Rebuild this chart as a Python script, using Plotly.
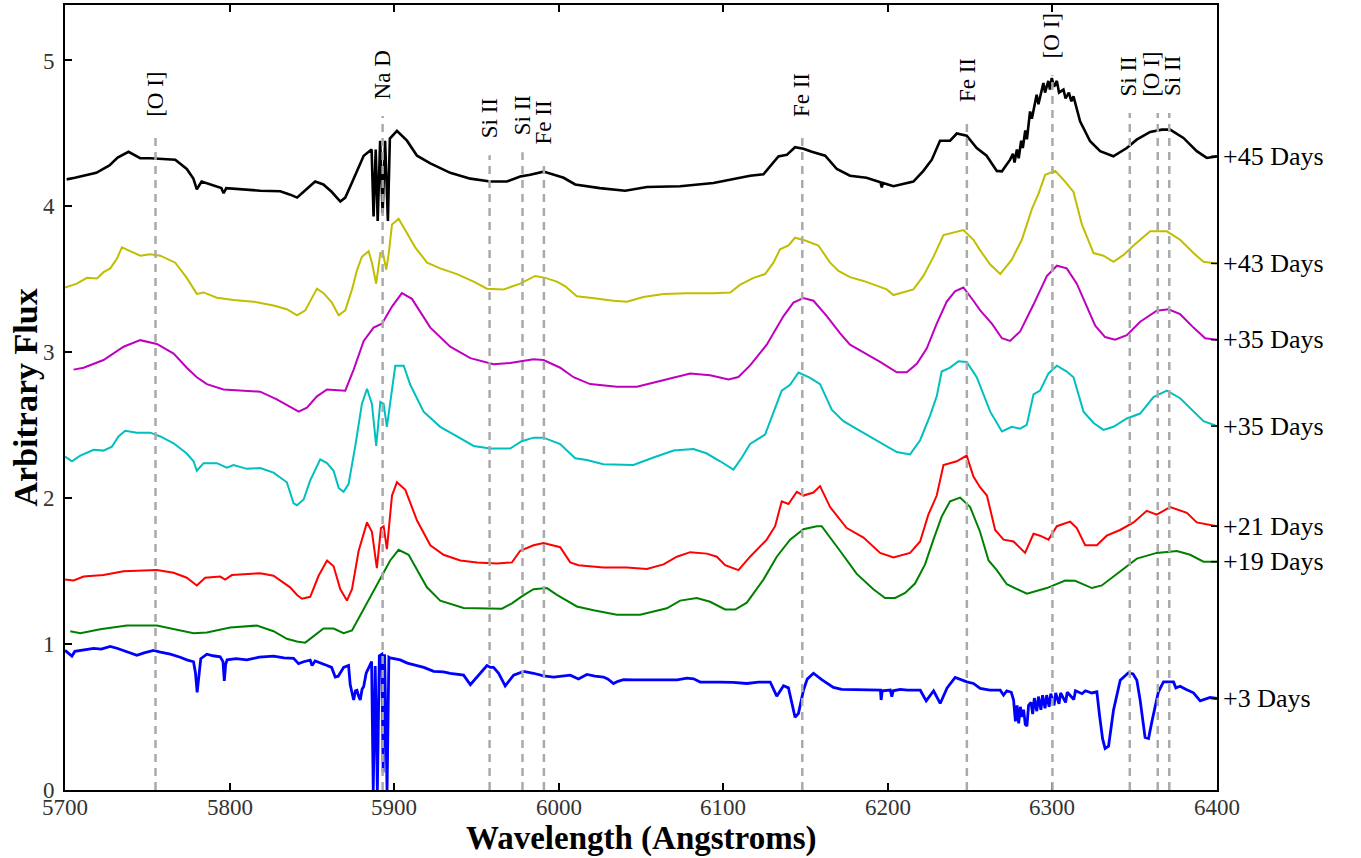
import plotly.graph_objects as go

# ---------------- data (wavelength in Angstroms, arbitrary flux) ----------------
spec_45 = [(5701,4.185),(5706,4.196),(5719,4.23),(5727,4.28),(5732,4.334),(5738.6,4.374),(5745.7,4.33),
 (5751.8,4.33),(5767,4.32),(5774,4.256),(5778,4.19),(5780.1,4.117),(5783,4.17),(5795,4.125),(5796.4,4.09),
 (5798,4.125),(5818.6,4.107),(5830.8,4.104),(5836.9,4.08),(5841,4.06),(5845,4.10),(5852,4.17),(5857,4.15),
 (5862,4.10),(5867.3,4.033),(5870.3,4.06),(5874.4,4.164),(5877.4,4.24),(5881.5,4.347),(5886.3,4.39),
 (5887.5,3.93),(5888.8,4.39),(5890,3.90),(5891.5,4.45),(5893,3.955),(5894.5,4.45),(5896.2,3.90),
 (5897.4,4.465),(5901.7,4.518),(5907.8,4.45),(5913.9,4.347),(5922,4.295),(5934.1,4.23),(5946.3,4.19),
 (5958.4,4.17),(5968.5,4.17),(5976.6,4.205),(5982.7,4.217),(5990.8,4.238),(6003,4.196),(6010,4.15),
 (6025,4.125),(6040.4,4.107),(6053.6,4.133),(6073.8,4.138),(6094,4.16),(6106,4.185),(6116.3,4.21),
 (6124.4,4.22),(6133.5,4.342),(6138.6,4.353),(6143.6,4.405),(6148.7,4.395),(6153.8,4.374),(6161.9,4.347),
 (6169,4.256),(6177,4.21),(6187,4.196),(6195.5,4.165),(6196.3,4.13),(6197,4.16),(6203.4,4.138),
 (6215.5,4.17),(6221.6,4.243),(6226.7,4.32),(6231.7,4.45),(6237.8,4.45),(6241.9,4.499),(6247.9,4.484),
 (6254,4.40),(6260,4.347),(6266.2,4.243),(6269.3,4.24),(6274.3,4.32),(6276,4.36),(6277,4.30),
 (6278.4,4.39),(6279.5,4.33),(6281,4.45),(6282,4.40),(6283.5,4.52),(6284.5,4.46),(6286.4,4.65),
 (6287.5,4.60),(6290.4,4.765),(6291.5,4.70),(6294.5,4.845),(6295.5,4.78),(6297.5,4.86),(6298.5,4.80),
 (6299.6,4.88),(6301,4.82),(6302.7,4.86),(6304,4.78),(6306.7,4.80),(6308,4.74),(6310,4.78),(6311.5,4.72),
 (6312.8,4.754),(6316.8,4.583),(6322.9,4.446),(6329,4.378),(6337,4.343),(6345.2,4.40),(6351.2,4.457),
 (6359.4,4.51),(6366.5,4.526),(6371.5,4.526),(6379.6,4.469),(6387.7,4.378),(6393.8,4.332),(6400,4.343)]

spec_43 = [(5700,3.444),(5707.2,3.47),(5713.3,3.51),(5719.4,3.505),(5723.4,3.549),(5727.5,3.575),
 (5731.5,3.64),(5734.6,3.719),(5739.6,3.693),(5745.7,3.662),(5751.8,3.672),(5757.9,3.662),(5767,3.614),
 (5774,3.51),(5780.1,3.40),(5784.2,3.41),(5792.3,3.374),(5802.4,3.358),(5814.6,3.347),(5826.7,3.321),
 (5834.8,3.295),(5841,3.253),(5846,3.287),(5853.1,3.436),(5857.1,3.405),(5862.2,3.34),(5866.3,3.253),
 (5870.3,3.287),(5874.4,3.431),(5877.4,3.562),(5880.4,3.654),(5884.5,3.693),(5886.5,3.614),(5889.1,3.47),
 (5891.6,3.68),(5893.2,3.68),(5895.2,3.567),(5896.6,3.667),(5898.7,3.876),(5902.7,3.915),(5906.8,3.837),
 (5912.8,3.719),(5920,3.614),(5928,3.575),(5938.2,3.536),(5948.3,3.484),(5956.4,3.436),(5966.5,3.431),
 (5976.6,3.47),(5985.7,3.523),(5991.8,3.51),(5998.9,3.484),(6004,3.452),(6011,3.384),(6019.1,3.374),
 (6033.3,3.353),(6041.4,3.347),(6051.5,3.379),(6063.7,3.40),(6077.9,3.405),(6094,3.405),(6104.2,3.41),
 (6110.3,3.463),(6118.4,3.51),(6125.4,3.536),(6130.5,3.614),(6134.5,3.706),(6139.6,3.732),(6143.6,3.785),
 (6149.7,3.766),(6157.8,3.732),(6164.9,3.614),(6170,3.557),(6177,3.515),(6185.2,3.489),(6193.3,3.457),
 (6199.3,3.431),(6203.4,3.392),(6211.5,3.418),(6215.5,3.431),(6221.6,3.523),(6227.7,3.654),(6233.8,3.803),
 (6240.8,3.824),(6245.9,3.837),(6252,3.771),(6256,3.70),(6262.2,3.601),(6268.3,3.536),(6275.3,3.635),
 (6281.4,3.771),(6287.5,3.981),(6291.5,4.086),(6295.6,4.216),(6301.7,4.243),(6307.7,4.169),(6312.8,4.099),
 (6317.9,3.876),(6325,3.68),(6331,3.662),(6337.1,3.62),(6343.2,3.667),(6349.3,3.732),(6359.4,3.829),
 (6369.5,3.829),(6377.6,3.771),(6385.7,3.68),(6391.8,3.62),(6400,3.609)]

spec_35a = [(5705.2,2.881),(5711.3,2.894),(5723.4,2.947),(5735.6,3.038),(5745.7,3.083),(5755.8,3.057),
 (5766,2.991),(5774,2.894),(5780.1,2.829),(5786.2,2.782),(5796.3,2.745),(5818.6,2.73),(5828.7,2.677),
 (5842,2.593),(5847,2.62),(5853.1,2.698),(5859.2,2.745),(5870.3,2.737),(5875.4,2.881),(5881.5,3.078),
 (5887.5,3.169),(5892.6,3.196),(5898.7,3.313),(5904.7,3.405),(5910.8,3.366),(5922,3.169),(5934.1,3.038),
 (5946.3,2.96),(5960.4,2.918),(5970.5,2.926),(5978,2.94),(5984.7,2.952),(5990.8,2.947),(6000.9,2.894),
 (6009,2.829),(6019.1,2.782),(6035.3,2.764),(6047.5,2.764),(6061.6,2.803),(6079.9,2.855),(6092,2.842),
 (6103.2,2.813),(6109.2,2.83),(6116.3,2.91),(6126.4,3.052),(6136.6,3.248),(6142.6,3.34),(6148.7,3.371),
 (6154.8,3.353),(6162.9,3.248),(6171,3.13),(6177,3.052),(6185.2,2.999),(6195.3,2.934),(6205.4,2.863),
 (6211.5,2.863),(6217.6,2.921),(6223.6,3.025),(6229.7,3.196),(6235.8,3.347),(6240.8,3.418),(6245.9,3.444),
 (6252,3.353),(6256.1,3.287),(6263.2,3.196),(6269.3,3.096),(6274.3,3.078),(6280.4,3.143),(6288.5,3.327),
 (6296.6,3.523),(6302.7,3.593),(6308.7,3.575),(6314.8,3.47),(6320.9,3.313),(6326,3.182),(6332,3.104),
 (6338.1,3.086),(6345.2,3.117),(6353.3,3.209),(6363.4,3.285),(6370.5,3.295),(6377.6,3.261),(6385.7,3.169),
 (6392.8,3.096),(6400,3.086)]

spec_35b = [(5700,2.285),(5704.2,2.253),(5709.3,2.292),(5717.4,2.332),(5723.4,2.326),(5728.5,2.353),
 (5732.5,2.423),(5736.6,2.462),(5743.7,2.449),(5751.8,2.449),(5757.9,2.423),(5766,2.376),(5774,2.306),
 (5778.1,2.253),(5780.1,2.188),(5784.2,2.24),(5792.3,2.24),(5798.3,2.209),(5802.4,2.227),(5810.5,2.201),
 (5818.6,2.206),(5826.7,2.175),(5834.8,2.109),(5838.9,1.965),(5841,1.952),(5845,1.991),(5849,2.122),
 (5855.1,2.266),(5859.2,2.24),(5863.2,2.188),(5866.3,2.07),(5869.3,2.044),(5872.3,2.096),(5876.4,2.358),
 (5880.4,2.646),(5883.5,2.75),(5886.5,2.646),(5889.1,2.358),(5891.6,2.659),(5893.6,2.646),(5895.6,2.489),
 (5897.6,2.646),(5900.7,2.908),(5905.8,2.908),(5909.8,2.777),(5917.9,2.593),(5928,2.489),(5938.2,2.423),
 (5948.3,2.358),(5958.4,2.34),(5970.5,2.34),(5977.5,2.39),(5984.7,2.415),(5990.8,2.415),(6000.9,2.371),
 (6010,2.274),(6017.1,2.261),(6027.2,2.232),(6045.4,2.227),(6057.6,2.279),(6069.8,2.326),(6081.9,2.337),
 (6090,2.306),(6098.1,2.253),(6106.2,2.196),(6111.3,2.279),(6116.3,2.372),(6125.4,2.436),(6130.5,2.593),
 (6135.5,2.737),(6140.6,2.777),(6145.7,2.861),(6152.8,2.824),(6158.8,2.782),(6165.9,2.607),(6173,2.528),
 (6183.1,2.462),(6191.2,2.41),(6199.3,2.353),(6205.4,2.316),(6213.5,2.30),(6219.6,2.397),(6225.7,2.567),
 (6229.7,2.698),(6232.7,2.868),(6237.8,2.895),(6242.9,2.939),(6247.9,2.934),(6254,2.829),(6258,2.72),
 (6262.2,2.593),(6269.3,2.457),(6275.3,2.489),(6280.4,2.476),(6284.4,2.502),(6288.5,2.711),(6292.5,2.737),
 (6297.6,2.855),(6302.7,2.908),(6308.7,2.868),(6312.8,2.829),(6318.9,2.593),(6325,2.515),(6331,2.468),
 (6337.1,2.489),(6345.2,2.546),(6353.3,2.58),(6361.4,2.693),(6369.5,2.737),(6377.6,2.685),(6385.7,2.593),
 (6391.8,2.528),(6400,2.494)]

spec_21 = [(5700,1.442),(5705.2,1.436),(5711.3,1.463),(5723.4,1.473),(5735.6,1.499),(5745.7,1.505),
 (5755.8,1.507),(5766,1.489),(5774,1.455),(5780.1,1.402),(5785.2,1.455),(5794.3,1.463),(5797.3,1.442),
 (5801.4,1.473),(5818.6,1.486),(5826.7,1.468),(5836.8,1.389),(5841,1.337),(5844,1.311),(5849,1.324),
 (5854.1,1.468),(5859.2,1.573),(5863.2,1.533),(5867.3,1.376),(5871.3,1.298),(5874.4,1.376),(5878.4,1.638),
 (5883.5,1.834),(5886.5,1.769),(5889.5,1.52),(5892,1.795),(5893.6,1.808),(5895.6,1.651),(5898.7,2.018),
 (5901.7,2.109),(5906.8,2.057),(5913.9,1.847),(5922,1.677),(5930,1.612),(5940.2,1.573),(5950.3,1.56),
 (5962.5,1.552),(5971.6,1.56),(5976.6,1.64),(5984.7,1.677),(5990.8,1.693),(6000.9,1.664),(6007,1.56),
 (6012,1.541),(6027.2,1.525),(6041.4,1.525),(6053.5,1.515),(6063.7,1.546),(6071.8,1.599),(6079.9,1.63),
 (6090,1.62),(6096.1,1.599),(6101.1,1.541),(6109.2,1.507),(6116.3,1.599),(6126.4,1.716),(6131.5,1.808),
 (6135.5,1.978),(6139.6,1.96),(6144.7,2.044),(6148.7,2.018),(6154.8,2.039),(6158.8,2.083),(6164.9,1.939),
 (6175,1.795),(6185.2,1.73),(6195.3,1.625),(6203.4,1.594),(6213.5,1.625),(6219.6,1.703),(6224.6,1.887),
 (6229.7,2.018),(6233.8,2.227),(6241.9,2.253),(6247.9,2.292),(6252,2.148),(6256,2.075),(6260.2,2.018),
 (6265.2,1.782),(6270.3,1.716),(6276.4,1.703),(6283.4,1.625),(6288.5,1.756),(6292.5,1.743),(6297.6,1.716),
 (6302.7,1.808),(6310.8,1.839),(6314.8,1.795),(6319.9,1.677),(6327,1.677),(6333,1.743),(6341.1,1.782),
 (6349.3,1.834),(6357.3,1.913),(6363.4,1.887),(6371.5,1.939),(6381.7,1.90),(6387.7,1.834),(6400,1.808)]

spec_19 = [(5703.2,1.088),(5709.3,1.075),(5721.4,1.101),(5737.6,1.127),(5755.8,1.127),(5766,1.101),
 (5778.1,1.075),(5786.2,1.08),(5800.4,1.114),(5816.6,1.127),(5826.7,1.088),(5834.8,1.036),(5840.9,1.018),
 (5846,1.01),(5857.1,1.107),(5863.2,1.107),(5869.3,1.075),(5874.4,1.093),(5882.5,1.258),(5891.6,1.442),
 (5897.6,1.573),(5902.7,1.646),(5908.8,1.612),(5919.9,1.389),(5928,1.298),(5942.2,1.248),(5958.4,1.245),
 (5965.5,1.243),(5971.6,1.279),(5978,1.33),(5984.7,1.376),(5992.8,1.384),(5998.9,1.337),(6011,1.258),
 (6021.2,1.232),(6035.3,1.201),(6049.5,1.201),(6065.7,1.245),(6073.8,1.298),(6083.9,1.316),(6092,1.29),
 (6101.1,1.237),(6107.2,1.237),(6114.3,1.284),(6124.4,1.442),(6132.5,1.599),(6140.6,1.716),(6148.7,1.787),
 (6156.8,1.808),(6159.8,1.808),(6171,1.638),(6181.1,1.481),(6191.2,1.376),(6198.3,1.316),(6204.4,1.316),
 (6210.5,1.35),(6216.5,1.415),(6222.6,1.546),(6227.7,1.716),(6232.7,1.874),(6237.8,1.978),(6243.9,2.004),
 (6250,1.939),(6256,1.77),(6261.2,1.573),(6266.2,1.507),(6272.3,1.41),(6284.5,1.345),(6296.6,1.384),
 (6307.7,1.436),(6313.8,1.434),(6324,1.384),(6330,1.402),(6339.1,1.481),(6351.3,1.586),(6363.4,1.625),
 (6375.6,1.638),(6383.7,1.612),(6391.8,1.565),(6400,1.565)]

spec_3 = [(5700,0.957),(5702,0.94),(5704.2,0.918),(5706,0.95),(5709.3,0.957),(5713,0.962),(5717.4,0.97),
 (5722,0.965),(5727.5,0.984),(5732,0.97),(5737.6,0.95),(5743.7,0.923),(5748,0.94),(5753.8,0.957),
 (5758,0.945),(5764,0.931),(5770,0.91),(5774,0.892),(5778.1,0.879),(5779.3,0.80),(5780.3,0.669),
 (5781.3,0.76),(5782.5,0.90),(5786.2,0.931),(5790,0.92),(5794.3,0.913),(5796,0.88),(5796.8,0.748),
 (5797.6,0.86),(5798.5,0.892),(5804,0.90),(5810.5,0.892),(5818,0.91),(5826.7,0.918),(5833,0.905),
 (5838.9,0.902),(5841.9,0.866),(5845,0.879),(5849,0.89),(5850.1,0.853),(5852,0.885),(5859.2,0.853),
 (5862,0.84),(5864.2,0.774),(5866,0.78),(5869.3,0.84),(5872.3,0.853),(5873.3,0.722),(5875.4,0.617),
 (5876.5,0.68),(5877.4,0.683),(5878.5,0.64),(5879.4,0.617),(5880.5,0.69),(5881.5,0.709),(5883,0.80),
 (5884.5,0.84),(5886.3,0.88),(5887.3,0.0),(5888.5,0.85),(5889.8,0.0),(5891.0,0.92),(5892.5,0.93),
 (5893.3,0.12),(5894.2,0.93),(5895.7,0.0),(5896.8,0.91),(5897.6,0.905),(5903.7,0.892),(5908,0.87),
 (5913.9,0.853),(5918,0.84),(5924,0.813),(5930,0.81),(5934.1,0.80),(5938,0.795),(5942.2,0.787),
 (5946.3,0.722),(5950.3,0.774),(5956.4,0.853),(5958.5,0.84),(5960.4,0.84),(5963.5,0.80),(5967.5,0.714),
 (5972.6,0.787),(5978.7,0.813),(5984.7,0.80),(5990.8,0.782),(5996.9,0.774),(6002,0.78),(6007,0.787),
 (6012,0.761),(6017.1,0.792),(6022,0.78),(6027.2,0.774),(6030,0.76),(6033.3,0.73),(6036,0.745),
 (6039.4,0.756),(6046,0.755),(6053.5,0.756),(6060,0.752),(6065.7,0.756),(6072,0.755),(6077.9,0.766),
 (6082,0.762),(6086,0.74),(6092,0.742),(6098.1,0.74),(6106,0.738),(6114.3,0.73),(6121.4,0.74),
 (6128.5,0.74),(6132.5,0.643),(6136.6,0.714),(6139.6,0.70),(6141.8,0.60),(6143.6,0.499),(6145.7,0.525),
 (6148.7,0.683),(6151,0.76),(6154.8,0.80),(6159.8,0.756),(6166.9,0.703),(6172,0.69),(6177,0.688),
 (6185,0.685),(6193.3,0.685),(6195.5,0.685),(6195.9,0.617),(6196.6,0.68),(6201.5,0.685),(6202.4,0.64),
 (6203.3,0.68),(6207.5,0.689),(6212,0.684),(6219.7,0.684),(6223.3,0.611),(6227.8,0.68),(6231.8,0.593),
 (6236,0.70),(6240.9,0.771),(6248,0.741),(6252,0.73),(6256.1,0.696),(6262,0.685),(6268.3,0.684),
 (6270.3,0.65),(6272.3,0.68),(6275,0.67),(6276.4,0.616),(6277.5,0.47),(6278.5,0.58),(6279.5,0.456),
 (6280.5,0.57),(6281.5,0.50),(6282.5,0.55),(6283.5,0.45),(6284.5,0.438),(6285.5,0.58),(6287,0.60),
 (6288,0.52),(6289,0.63),(6290.5,0.54),(6291.5,0.64),(6293,0.55),(6294,0.65),(6295.5,0.56),(6296.5,0.65),
 (6298,0.57),(6299,0.66),(6301,0.58),(6302,0.665),(6304,0.59),(6305,0.665),(6308,0.60),(6309,0.67),
 (6313,0.62),(6314,0.68),(6318,0.66),(6320,0.68),(6324,0.665),(6327,0.673),(6328.6,0.513),(6330.5,0.35),
 (6332,0.285),(6334.1,0.30),(6337.1,0.547),(6341.2,0.752),(6346.2,0.803),(6349,0.795),(6351.3,0.752),
 (6353.3,0.616),(6356.3,0.36),(6358.4,0.353),(6360.4,0.467),(6364.4,0.673),(6367.5,0.741),(6373.6,0.741),
 (6375,0.70),(6377.6,0.711),(6381,0.69),(6385.7,0.666),(6389.8,0.611),(6395.8,0.634),(6400,0.627)]

series_labels = ["+45 Days", "+43 Days", "+35 Days", "+35 Days", "+21 Days", "+19 Days", "+3 Days"]
series_colors = ["#000000", "#bfbf00", "#bf00bf", "#00bfbf", "#ff0000", "#008000", "#0000ff"]
series_widths = [2.6, 2, 2, 2, 2, 2, 2.8]
series_data = [spec_45, spec_43, spec_35a, spec_35b, spec_21, spec_19, spec_3]

line_wl = [5755, 5893, 5958, 5978, 5991, 6148, 6248, 6300, 6347, 6364, 6371]
line_names = ["[O I]", "Na D", "Si II", "Si II", "Fe II", "Fe II", "Fe II", "[O I]", "Si II", "[O I]", "Si II"]
line_label_x = [5755, 5893, 5958, 5978, 5991, 6148, 6248, 6300, 6346, 6360.5, 6373]
line_label_y = [4.60, 4.72, 4.45, 4.47, 4.41, 4.60, 4.70, 5.00, 4.74, 4.74, 4.74]

x_ticks = [5700, 5800, 5900, 6000, 6100, 6200, 6300, 6400]
y_ticks = [0, 1, 2, 3, 4, 5]

SERIF = "Liberation Serif"

fig = go.Figure()
for data, col, w in zip(series_data, series_colors, series_widths):
    fig.add_trace(go.Scatter(x=[p[0] for p in data], y=[p[1] for p in data], mode="lines",
                             line=dict(color=col, width=w), showlegend=False, hoverinfo="skip"))

shapes = []
annotations = []
for wl, lx, name, ly in zip(line_wl, line_label_x, line_names, line_label_y):
    shapes.append(dict(type="line", xref="x", yref="y", x0=wl, x1=wl, y0=0, y1=ly - 0.1,
                       line=dict(color="#aaaaaa", width=2.5, dash="8px,6px"), layer="above"))
    annotations.append(dict(x=lx, y=ly, xref="x", yref="y", text=name, showarrow=False,
                            textangle=-90, xanchor="center", yanchor="bottom",
                            font=dict(family=SERIF, size=23, color="black")))

for data, lab in zip(series_data, series_labels):
    last = data[-1][1]
    annotations.append(dict(x=1, y=last, xref="paper", yref="y", text=lab, showarrow=False,
                            xanchor="left", yanchor="middle", xshift=4,
                            font=dict(family=SERIF, size=26, color="black")))
    shapes.append(dict(type="line", xref="x domain", yref="y", x0=1 - 6 / 1152, x1=1, y0=last, y1=last,
                       line=dict(color="black", width=1.5)))

# x tick labels (placed as text just under the axis, as in the reference)
for xt in x_ticks:
    annotations.append(dict(x=xt, y=0, xref="x", yref="paper", text=str(xt), showarrow=False,
                            xanchor="center", yanchor="middle", yshift=-17,
                            font=dict(family=SERIF, size=23, color="#333333")))

annotations.append(dict(x=0.5, y=0, xref="paper", yref="paper", text="<b>Wavelength (Angstroms)</b>",
                        showarrow=False, xanchor="center", yanchor="middle", yshift=-48,
                        font=dict(family=SERIF, size=33, color="black")))
annotations.append(dict(x=0, y=0.5, xref="paper", yref="paper", text="<b>Arbitrary Flux</b>",
                        showarrow=False, xanchor="center", yanchor="middle", xshift=-40, textangle=-90,
                        font=dict(family=SERIF, size=34, color="black")))

fig.update_layout(
    width=1361, height=858,
    margin=dict(l=65, r=144, t=3, b=68),
    paper_bgcolor="white", plot_bgcolor="white",
    font=dict(family=SERIF, color="black"),
    shapes=shapes, annotations=annotations,
    xaxis=dict(range=[5700, 6400], tickvals=x_ticks, ticks="inside", ticklen=7, tickwidth=1.5,
               tickcolor="black", showline=True, linewidth=2, linecolor="black", mirror="ticks",
               showgrid=False, zeroline=False, showticklabels=False),
    yaxis=dict(range=[0, 5.38], tickvals=y_ticks, ticks="inside", ticklen=7, tickwidth=1.5,
               tickcolor="black", showline=True, linewidth=2, linecolor="black", mirror=True,
               showgrid=False, zeroline=False, ticklabelstandoff=4,
               tickfont=dict(family=SERIF, size=23, color="#333333")),
)

fig.write_html("out.html")
